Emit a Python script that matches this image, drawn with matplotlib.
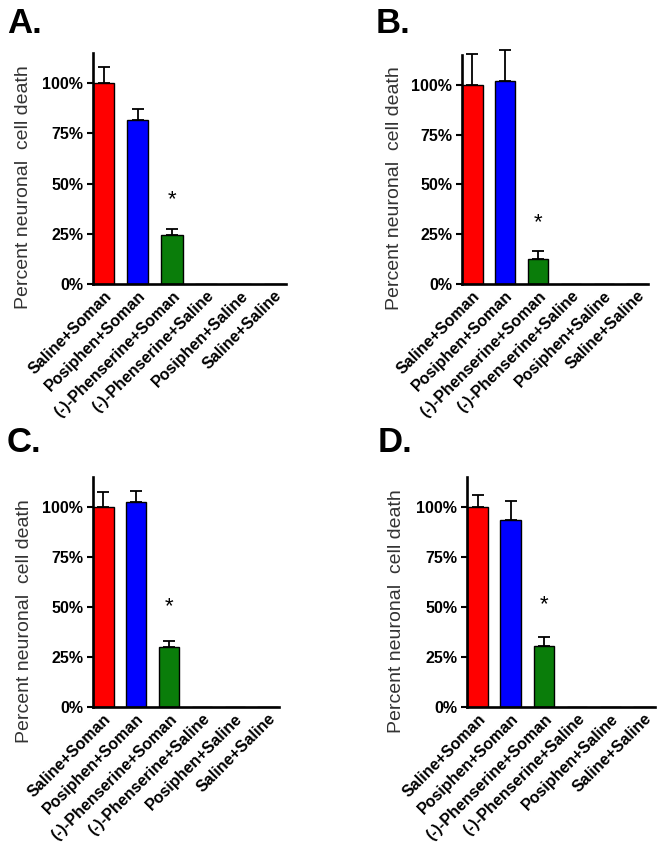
import matplotlib
matplotlib.use("Agg")
import matplotlib.pyplot as plt
import matplotlib.transforms as mtransforms
import numpy as np

categories = ["Saline+Soman", "Posiphen+Soman", "(-)-Phenserine+Soman",
              "(-)-Phenserine+Saline", "Posiphen+Saline", "Saline+Saline"]
panel_labels = ["A.", "B.", "C.", "D."]

values_A = [100.0, 81.7, 24.3, 0.0, 0.0, 0.0]
errors_A = [8.0, 5.6, 3.0, 0.0, 0.0, 0.0]
values_B = [100.0, 101.7, 12.8, 0.0, 0.0, 0.0]
errors_B = [15.3, 15.6, 3.7, 0.0, 0.0, 0.0]
values_C = [100.0, 102.3, 29.8, 0.0, 0.0, 0.0]
errors_C = [7.3, 5.5, 3.0, 0.0, 0.0, 0.0]
values_D = [100.0, 93.4, 30.5, 0.0, 0.0, 0.0]
errors_D = [6.0, 9.6, 4.6, 0.0, 0.0, 0.0]
star_y = [42, 31, 50, 51]   # y position (%) of the significance star over bar 3
yticks = [0, 25, 50, 75, 100]
ytick_labels = ["0%", "25%", "50%", "75%", "100%"]

bar_colors = ["#ff0000", "#0000ff", "#0a7d0a", "white", "white", "white"]

W, H = 664, 856
fig = plt.figure(figsize=(W / 100, H / 100), dpi=100)
plt.rcParams['font.family'] = ['Liberation Sans', 'DejaVu Sans']

# axes boxes in pixels: left, right, bottom(y from top), top(y from top)
boxes = [(93, 286, 284, 53), (462, 648, 284, 55), (93, 279, 707, 477), (467, 655, 707, 477)]
letter_pos = [(7, 33), (376, 33), (7, 452), (378, 452)]
ylabel_coords = [(-0.318, 0.42), (-0.315, 0.42), (-0.325, 0.375), (-0.33, 0.415)]

data = [(values_A, errors_A), (values_B, errors_B), (values_C, errors_C), (values_D, errors_D)]

for i, ((vals, errs), box) in enumerate(zip(data, boxes)):
    l, r, b, t = box
    ax = fig.add_axes([l / W, 1 - b / H, (r - l) / W, (b - t) / H])
    x = np.arange(len(categories))
    ax.bar(x, vals, width=0.62, color=bar_colors, edgecolor="black", linewidth=1.0, zorder=2)
    n = 3
    eb = ax.errorbar(x[:n], vals[:n], yerr=[np.zeros(n), errs[:n]], fmt="none",
                     ecolor="black", elinewidth=1.3, capsize=4, capthick=1.3, zorder=1)
    for art in eb.lines[1]:
        art.set_clip_on(False)
    for art in eb.lines[2]:
        art.set_clip_on(False)
    ax.text(2, star_y[i], "*", ha="center", va="center", fontsize=16)
    ax.set_xlim(-0.32, 5.35)
    ax.set_ylim(0, 115)
    ax.set_yticks(yticks)
    ax.set_yticklabels(ytick_labels, fontsize=11.5, fontweight="bold")
    ax.set_xticks(x)
    ax.set_xticklabels(categories, rotation=45, ha="right", va="top",
                       rotation_mode="anchor", fontsize=11.5, fontweight="bold")
    offset = mtransforms.ScaledTranslation(6 / 100, 0, fig.dpi_scale_trans)
    for lab in ax.get_xticklabels():
        lab.set_transform(lab.get_transform() + offset)
    ax.tick_params(axis="x", length=0, pad=3)
    ax.tick_params(axis="y", length=4, width=1.5, pad=3)
    for s in ["top", "right"]:
        ax.spines[s].set_visible(False)
    for s in ["left", "bottom"]:
        ax.spines[s].set_linewidth(1.9)
    ax.set_ylabel("Percent neuronal  cell death", fontsize=14, color="#333333")
    ax.yaxis.set_label_coords(*ylabel_coords[i])
    lx, ly = letter_pos[i]
    fig.text(lx / W, 1 - ly / H, panel_labels[i], fontsize=25, fontweight="bold",
             ha="left", va="baseline")

fig.savefig("out.png", dpi=100)
